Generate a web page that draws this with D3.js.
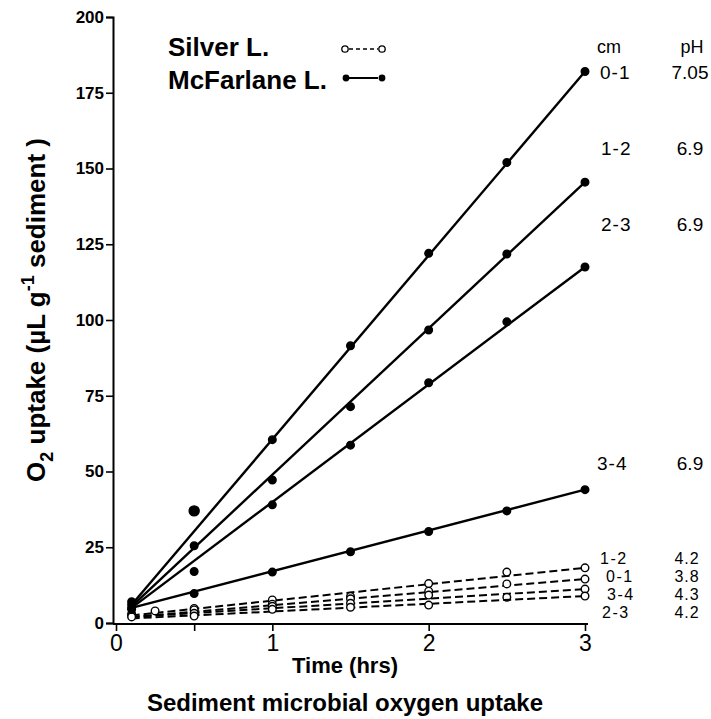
<!DOCTYPE html>
<html>
<head>
<meta charset="utf-8">
<script src="https://cdn.jsdelivr.net/npm/d3@7"></script>
<style>
  body { margin: 0; background: #fff; }
  text { font-family: "Liberation Sans", Arial, sans-serif; fill: #000; }
</style>
</head>
<body>
<div id="chart"></div>
<script>
// McFarlane L. (solid, filled dots)
var mcfTimes = [0.1, 0.5, 1, 1.5, 2, 2.5, 3];
var mcf01 = [7, 37, 60.5, 91.5, 122, 152, 182];
var mcf12 = [6, 25.5, 47.2, 71.4, 96.7, 121.8, 145.5];
var mcf23 = [5, 17, 39, 58.7, 79.3, 99.4, 117.5];
var mcf34 = [4.5, 9.7, 16.8, 23.5, 30.2, 37, 44];
var mcfFitStart = [6, 5.5, 5, 5];
var mcfFitEnd = [182, 145.5, 117.5, 44];
var mcfDepths = ["0-1", "1-2", "2-3", "3-4"];
var mcfPH = ["7.05", "6.9", "6.9", "6.9"];

// Silver L. (dashed, open circles)
var silverTimes = [0.1, 0.25, 0.5, 1, 1.5, 2, 2.5, 3];
var silver12 = [null, 4, 4.8, 7.6, 8.8, 13, 16.8, 18.2];
var silver01 = [3, null, 4.3, 6.2, 8, 10.5, 12.9, 14.5];
var silver34 = [2.5, null, 3.2, 5.5, 6.5, 9.2, 8.5, 11.2];
var silver23 = [2, null, 2.3, 4.5, 5.2, 5.9, null, 8.9];
var silverFitStart = [2.5, 2, 2, 1.5];
var silverFitEnd = [18.2, 14.5, 11.2, 8.9];
var silverDepths = ["1-2", "0-1", "3-4", "2-3"];
var silverPH = ["4.2", "3.8", "4.3", "4.2"];

var fitTimes = [0.1, 3];
var yTicks = [0, 25, 50, 75, 100, 125, 150, 175, 200];
var xTicks = [0, 0.5, 1, 2, 3];

var width = 711, height = 719;

var svg = d3.select("#chart").append("svg")
    .attr("width", width)
    .attr("height", height);

var x = d3.scaleLinear().domain([0, 3]).range([116, 585]);
var y = d3.scaleLinear().domain([0, 200]).range([623, 17]);

// axes
var yAxis = svg.append("g")
    .attr("transform", "translate(113,0)")
    .call(d3.axisLeft(y).tickValues(yTicks).tickSize(7).tickPadding(2).tickFormat(d3.format("d")));
yAxis.selectAll("text").style("font-size", "17px").style("font-weight", "bold");

var xAxis = svg.append("g")
    .attr("transform", "translate(0,624)")
    .call(d3.axisBottom(x).tickValues(xTicks).tickSize(7).tickPadding(4)
      .tickFormat(function(d) { return d % 1 === 0 ? d : ""; }));
xAxis.selectAll("text").style("font-size", "23px");
xAxis.select(".domain").attr("d", "M113,0H588");

svg.selectAll(".domain").attr("stroke", "#000").attr("stroke-width", 2);
svg.selectAll(".tick line").attr("stroke", "#000").attr("stroke-width", 1.6);

// fit lines + points
function drawSeries(times, values, fitStart, fitEnd, dashed) {
  var line = d3.line()
      .x(function(d, i) { return x(fitTimes[i]); })
      .y(function(d) { return y(d); });

  svg.append("path")
      .datum([fitStart, fitEnd])
      .attr("fill", "none")
      .attr("stroke", "#000")
      .attr("stroke-width", dashed ? 2 : 2.4)
      .attr("stroke-dasharray", dashed ? "8,4" : null)
      .attr("d", line);

  var pts = times.map(function(t, i) { return {t: t, v: values[i]}; })
      .filter(function(p) { return p.v !== null; });

  svg.selectAll(null)
      .data(pts)
      .enter().append("circle")
      .attr("cx", function(d) { return x(d.t); })
      .attr("cy", function(d) { return y(d.v); })
      .attr("r", function(d, i) { return !dashed && i == 1 && d.v > 30 ? 5 : 3.8; })
      .attr("fill", dashed ? "#fff" : "#000")
      .attr("stroke", "#000")
      .attr("stroke-width", 1.4);
}

var mcfSeries = [mcf01, mcf12, mcf23, mcf34];
var silverSeries = [silver12, silver01, silver34, silver23];

silverSeries.forEach(function(s, i) {
  drawSeries(silverTimes, s, silverFitStart[i], silverFitEnd[i], true);
});
mcfSeries.forEach(function(s, i) {
  drawSeries(mcfTimes, s, mcfFitStart[i], mcfFitEnd[i], false);
});

// right-hand labels
svg.append("text").attr("x", 597).attr("y", 53).style("font-size", "18px").text("cm");
svg.append("text").attr("x", 692).attr("y", 53).attr("text-anchor", "middle").style("font-size", "18px").text("pH");

var mcfLabelY = [79, 155, 231, 470];
var mcfLabelX = [600, 601, 601, 597];
mcfDepths.forEach(function(d, i) {
  svg.append("text").attr("x", mcfLabelX[i]).attr("y", mcfLabelY[i])
      .style("font-size", "19px").style("letter-spacing", "1px").text(d);
  svg.append("text").attr("x", 690).attr("y", mcfLabelY[i]).attr("text-anchor", "middle")
      .style("font-size", "19px").text(mcfPH[i]);
});

var silverLabelY = [564, 582, 600, 618];
var silverLabelX = [600, 606, 607, 602];
silverDepths.forEach(function(d, i) {
  svg.append("text").attr("x", silverLabelX[i]).attr("y", silverLabelY[i])
      .style("font-size", "16px").style("letter-spacing", "1.5px").text(d);
  svg.append("text").attr("x", 687).attr("y", silverLabelY[i]).attr("text-anchor", "middle")
      .style("font-size", "16px").style("letter-spacing", "1px").text(silverPH[i]);
});

// legend
svg.append("text").attr("x", 168).attr("y", 56).style("font-size", "26px").style("font-weight", "bold").text("Silver L.");
svg.append("text").attr("x", 168).attr("y", 89).style("font-size", "26px").style("font-weight", "bold").text("McFarlane L.");

svg.append("line").attr("x1", 349).attr("x2", 378).attr("y1", 49).attr("y2", 49)
    .attr("stroke", "#000").attr("stroke-width", 1.5).attr("stroke-dasharray", "4,3");
svg.selectAll(null).data([345, 382]).enter().append("circle")
    .attr("cx", function(d) { return d; }).attr("cy", 49).attr("r", 3.2)
    .attr("fill", "#fff").attr("stroke", "#000").attr("stroke-width", 1.3);

svg.append("line").attr("x1", 349).attr("x2", 378).attr("y1", 78).attr("y2", 78)
    .attr("stroke", "#000").attr("stroke-width", 2);
svg.selectAll(null).data([346, 382]).enter().append("circle")
    .attr("cx", function(d) { return d; }).attr("cy", 78).attr("r", 3.4)
    .attr("fill", "#000");

// axis titles
var yTitle = svg.append("text")
    .attr("transform", "translate(45,310) rotate(-90)")
    .attr("text-anchor", "middle")
    .style("font-size", "26px").style("font-weight", "bold");
yTitle.append("tspan").text("O");
yTitle.append("tspan").attr("dy", 8).style("font-size", "18px").text("2");
yTitle.append("tspan").attr("dy", -8).text(" uptake (\u00b5L g");
yTitle.append("tspan").attr("dy", -11).style("font-size", "18px").text("-1");
yTitle.append("tspan").attr("dy", 11).text(" sediment )");

svg.append("text").attr("x", 345).attr("y", 673).attr("text-anchor", "middle")
    .style("font-size", "22px").style("font-weight", "bold").text("Time (hrs)");
svg.append("text").attr("x", 345).attr("y", 711).attr("text-anchor", "middle")
    .style("font-size", "24px").style("font-weight", "bold").text("Sediment microbial oxygen uptake");
</script>
</body>
</html>
